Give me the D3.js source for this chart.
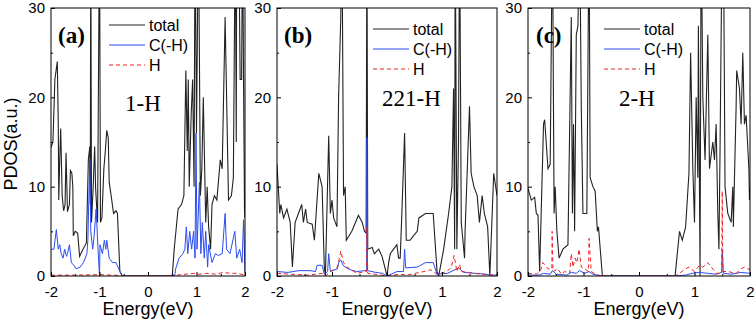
<!DOCTYPE html>
<html>
<head>
<meta charset="utf-8">
<script src="https://cdn.jsdelivr.net/npm/d3@7"></script>
<style>
  body { margin: 0; background: #fff; }
  svg { display: block; }
</style>
</head>
<body>
<svg width="756" height="322" font-family="Arial, 'Liberation Sans', sans-serif"></svg>
<script>
// energy (eV), PDOS (a.u.) pairs
var aTotal = [[-2,14.4],[-1.96,15],[-1.92,22],[-1.87,24],[-1.85,17],[-1.84,8.5],[-1.82,13],[-1.8,16.5],[-1.77,9],[-1.74,7.3],[-1.71,8],[-1.69,13.8],[-1.66,7.2],[-1.62,8],[-1.6,11.8],[-1.57,11.5],[-1.55,10],[-1.54,4.5],[-1.5,5],[-1.45,4.8],[-1.41,2.2],[-1.34,3],[-1.27,3.7],[-1.23,13],[-1.2,14.5],[-1.19,8],[-1.18,40],[-1.165,6],[-1.13,10],[-1.1,14.5],[-1.08,9.8],[-1.04,6],[-1.0,40],[-0.98,6],[-0.95,6.5],[-0.91,12],[-0.88,14],[-0.85,16.3],[-0.82,15.5],[-0.8,10.5],[-0.76,9],[-0.71,7],[-0.66,7.3],[-0.63,7],[-0.58,0.5],[-0.53,0],[0.5,0],[0.54,3],[0.62,7.5],[0.69,8],[0.74,9],[0.78,23],[0.81,14],[0.83,22],[0.85,10],[0.89,18],[0.92,22],[0.95,10],[0.97,40],[1.0,16],[1.04,40],[1.08,9],[1.11,12],[1.14,20],[1.19,6],[1.22,10],[1.25,5.5],[1.29,3],[1.32,8],[1.37,9],[1.42,8.5],[1.49,13],[1.53,12],[1.59,29],[1.66,8.5],[1.72,9],[1.76,11],[1.8,40],[1.82,15],[1.83,40],[1.87,40],[1.9,22],[1.93,22],[1.95,40],[1.97,22],[1.99,7.5],[2,6.5]];
var aC = [[-2,3],[-1.94,3],[-1.89,5.2],[-1.85,3],[-1.82,3.5],[-1.79,2.5],[-1.75,2],[-1.72,3],[-1.68,2.2],[-1.66,2.5],[-1.62,3.5],[-1.58,1.5],[-1.53,1.2],[-1.48,0.8],[-1.4,1],[-1.33,1.5],[-1.26,2.5],[-1.24,4],[-1.2,13],[-1.18,5],[-1.14,3],[-1.11,4.5],[-1.07,7.5],[-1.03,3],[-1.0,0],[-0.99,3.5],[-0.94,2.5],[-0.9,4],[-0.87,3],[-0.85,4],[-0.8,2],[-0.73,1.5],[-0.66,1.5],[-0.58,0.5],[-0.52,0],[0.55,0],[0.57,0.8],[0.64,2],[0.72,2.5],[0.76,3],[0.79,5.5],[0.82,2.5],[0.86,5],[0.9,3],[0.94,5],[0.97,2],[0.99,16],[1.01,3],[1.06,10.5],[1.09,2.5],[1.12,6],[1.16,2],[1.19,5],[1.23,1],[1.25,3.5],[1.32,1.5],[1.39,2.5],[1.45,2.3],[1.53,2.5],[1.59,7],[1.62,3],[1.69,2.5],[1.79,5],[1.83,2],[1.89,3],[1.94,1.5],[1.97,6.3],[2,0.5]];
var aH = [[-2,0.1],[-1.5,0.1],[-1,0.15],[-0.5,0.05],[0,0],[0.5,0.05],[0.95,0.3],[1.05,0.2],[1.2,0.3],[1.4,0.2],[1.55,0.4],[1.7,0.3],[1.85,0.3],[2,0.1]];

var bTotal = [[-2,12.5],[-1.95,7],[-1.93,8],[-1.88,6.5],[-1.82,7.5],[-1.76,6],[-1.72,1],[-1.67,6],[-1.61,7],[-1.55,8],[-1.52,6],[-1.48,7.5],[-1.45,6],[-1.36,5.8],[-1.32,4],[-1.24,11.5],[-1.18,10],[-1.14,1],[-1.12,0],[-1.06,15.7],[-1.03,7],[-1.0,8.5],[-0.97,6.5],[-0.91,5.5],[-0.88,20],[-0.84,29],[-0.82,40],[-0.79,9],[-0.76,10],[-0.74,4],[-0.64,5],[-0.52,6.8],[-0.45,6],[-0.41,5],[-0.38,4.8],[-0.365,40],[-0.35,3],[-0.27,3.2],[-0.23,2.5],[-0.15,3],[-0.09,2.2],[-0.04,1],[0,0],[0.03,1.5],[0.06,2.5],[0.12,3],[0.18,3.5],[0.21,2],[0.24,2],[0.27,7],[0.32,16],[0.35,4],[0.42,4],[0.48,4.5],[0.55,5],[0.58,6.5],[0.7,7],[0.84,7],[0.91,0.5],[0.94,0],[1.03,3],[1.12,7],[1.18,10],[1.21,21],[1.23,3],[1.24,40],[1.27,3],[1.3,15],[1.32,40],[1.35,6],[1.41,2],[1.42,5],[1.5,19],[1.53,11.5],[1.58,10],[1.64,9],[1.68,6],[1.73,9],[1.77,7],[1.83,5.5],[1.87,0],[1.94,11.5],[2,9]];
var bC = [[-2,0.5],[-1.8,0.4],[-1.6,0.6],[-1.4,0.6],[-1.3,0.5],[-1.27,1.2],[-1.18,1.2],[-1.14,0.2],[-1.08,0.5],[-1.06,2.5],[-1.03,0.5],[-0.9,0.8],[-0.88,1.5],[-0.84,1.8],[-0.8,1.2],[-0.76,1],[-0.67,0.7],[-0.55,0.5],[-0.4,0.6],[-0.37,0.6],[-0.365,15.5],[-0.355,0.6],[-0.2,0.4],[-0.08,0.3],[0,0],[0.18,0.5],[0.3,0.5],[0.32,3],[0.34,0.9],[0.55,1],[0.7,1.5],[0.84,1.5],[0.91,0.2],[1.1,0.3],[1.3,0.9],[1.4,0.4],[1.6,0.3],[1.8,0.2],[1.9,0.1],[2,0.1]];
var bH = [[-2,0.3],[-1.76,0.2],[-1.45,0.1],[-1.3,0.2],[-1.18,0.3],[-1.12,0],[-1.03,0.5],[-0.9,1],[-0.84,2.8],[-0.79,1.5],[-0.73,1],[-0.55,0.3],[-0.4,0.5],[-0.37,0.5],[-0.365,5.5],[-0.35,0.3],[-0.1,0.1],[0,0],[0.24,0.2],[0.36,0.1],[0.67,0.5],[0.79,0.7],[0.91,0.2],[1.09,0.5],[1.17,1],[1.22,2.3],[1.27,0.5],[1.32,1.3],[1.35,0.5],[1.5,0.4],[1.7,0.2],[1.87,0.1],[2,0.1]];

var cTotal = [[-2,9.8],[-1.94,8.5],[-1.88,8.8],[-1.85,7],[-1.82,6.8],[-1.79,0.5],[-1.75,10],[-1.72,17],[-1.7,17.5],[-1.64,12],[-1.6,12.5],[-1.56,40],[-1.53,7],[-1.51,10],[-1.48,5],[-1.44,2],[-1.37,3],[-1.28,3.5],[-1.22,29],[-1.2,7],[-1.18,17],[-1.16,5],[-1.13,27],[-1.1,28],[-1.07,40],[-1.04,19],[-1.01,7],[-0.94,7],[-0.9,40],[-0.88,11],[-0.83,10],[-0.79,9.5],[-0.75,5],[-0.73,5.5],[-0.66,0],[0.65,0],[0.73,5],[0.78,4],[0.84,5.5],[0.9,11.5],[0.93,25],[0.97,12],[1.0,6],[1.03,20],[1.06,11],[1.07,28],[1.1,0],[1.12,40],[1.15,20],[1.19,13],[1.24,27],[1.27,12],[1.33,15],[1.36,13],[1.39,17],[1.42,7],[1.44,3],[1.46,14],[1.5,40],[1.52,40],[1.55,10],[1.6,7],[1.66,6],[1.69,10],[1.7,5.5],[1.75,19],[1.76,23],[1.81,21],[1.84,17],[1.87,25],[1.9,17],[1.93,18],[1.98,12],[1.99,8.5],[2,10]];
var cC = [[-2,0.1],[-1.8,0.1],[-1.72,0.3],[-1.6,0.2],[-1.56,0.6],[-1.49,0.2],[-1.3,0.1],[-1.22,0.4],[-1.13,0.3],[-1.07,0.6],[-0.98,0.3],[-0.9,0.5],[-0.83,0.2],[-0.68,0],[0.65,0],[0.84,0.1],[0.96,0.3],[1.08,0.4],[1.24,0.3],[1.39,0.2],[1.49,0.4],[1.5,3],[1.52,0.3],[1.66,0.2],[1.84,0.4],[2,0.3]];
var cH = [[-2,0.3],[-1.85,0.2],[-1.78,0.5],[-1.73,1.5],[-1.64,0.8],[-1.57,0.8],[-1.565,5],[-1.55,0.5],[-1.46,0.8],[-1.4,0.2],[-1.34,0.5],[-1.25,0.3],[-1.22,2.5],[-1.19,1],[-1.15,2],[-1.12,1.5],[-1.08,3],[-1.04,1],[-0.98,0.8],[-0.91,0.5],[-0.9,4.2],[-0.86,0.5],[-0.78,0.2],[-0.68,0],[0.65,0],[0.73,0.3],[0.84,0.8],[0.9,1],[1.0,0.5],[1.09,1.2],[1.15,1],[1.24,1.5],[1.33,0.8],[1.39,0.3],[1.49,0.3],[1.5,9.5],[1.51,0.5],[1.6,0.5],[1.75,0.3],[1.84,0.8],[1.9,1],[2,0.7]];

var xTicks = [-2, -1, 0, 1, 2];
var yTicks = [0, 10, 20, 30];
var seriesNames = ["total", "C(-H)", "H"];
var panelTags = ["(a)", "(b)", "(c)"];
var panelNames = ["1-H", "221-H", "2-H"];

var colors = ["#222", "#2b4cf0", "#f02020"];
var serif = "'Liberation Serif', 'Times New Roman', serif";

var panels = [
    {left: 51, right: 245, data: [aTotal, aC, aH], legX: 109, legY: 25, tagX: 58, nameX: 125, nameY: 111},
    {left: 277, right: 497, data: [bTotal, bC, bH], legX: 373, legY: 29, tagX: 284, nameX: 382, nameY: 106},
    {left: 528, right: 750, data: [cTotal, cC, cH], legX: 604, legY: 29, tagX: 536, nameX: 619, nameY: 106}
];
var plotTop = 8, plotBottom = 276;

var svg = d3.select("svg");

panels.forEach(function (p, i) {
    var x = d3.scaleLinear().domain([-2, 2]).range([p.left, p.right]);
    var y = d3.scaleLinear().domain([0, 30]).range([plotBottom, plotTop]);

    svg.append("clipPath").attr("id", "clip" + i)
        .append("rect")
        .attr("x", p.left).attr("y", plotTop)
        .attr("width", p.right - p.left).attr("height", plotBottom - plotTop);

    var line = d3.line()
        .x(function (d) { return x(d[0]); })
        .y(function (d) { return y(d[1]); });

    var g = svg.append("g").attr("clip-path", "url(#clip" + i + ")");
    p.data.forEach(function (s, k) {
        g.append("path")
            .datum(s)
            .attr("d", line)
            .attr("fill", "none")
            .attr("stroke", colors[k])
            .attr("stroke-width", k == 0 ? 1.1 : 1)
            .attr("stroke-dasharray", k == 2 ? "4,3" : null);
    });

    // inward ticks, minor then major
    svg.append("g")
        .attr("transform", "translate(0," + plotBottom + ")")
        .call(d3.axisBottom(x).tickValues([-1.5, -0.5, 0.5, 1.5]).tickSize(-2).tickFormat(""))
        .call(function (a) { a.select(".domain").remove(); });
    var xa = svg.append("g")
        .attr("transform", "translate(0," + plotBottom + ")")
        .call(d3.axisBottom(x).tickValues(xTicks).tickSize(-4).tickFormat(function (d) { return String(d); }));
    xa.select(".domain").remove();
    xa.attr("font-family", null).attr("font-size", null);
    xa.selectAll("text").attr("font-size", 15).attr("fill", "#000").attr("y", 21).attr("dy", null);

    svg.append("g")
        .attr("transform", "translate(" + p.left + ",0)")
        .call(d3.axisLeft(y).tickValues([5, 15, 25]).tickSize(-2).tickFormat(""))
        .call(function (a) { a.select(".domain").remove(); });
    var ya = svg.append("g")
        .attr("transform", "translate(" + p.left + ",0)")
        .call(d3.axisLeft(y).tickValues(yTicks).tickSize(-4).tickFormat(function (d) { return String(d); }));
    ya.select(".domain").remove();
    ya.attr("font-family", null).attr("font-size", null);
    ya.selectAll("text").attr("font-size", 15).attr("fill", "#000").attr("x", -6);

    // frame
    svg.append("rect")
        .attr("x", p.left).attr("y", plotTop)
        .attr("width", p.right - p.left).attr("height", plotBottom - plotTop)
        .attr("fill", "none").attr("stroke", "#000").attr("stroke-width", 1);

    // legend
    seriesNames.forEach(function (n, k) {
        var ly = p.legY + k * 20;
        svg.append("line")
            .attr("x1", p.legX).attr("x2", p.legX + 36)
            .attr("y1", ly).attr("y2", ly)
            .attr("stroke", colors[k]).attr("stroke-width", 1.2)
            .attr("stroke-dasharray", k == 2 ? "4,3" : null);
        svg.append("text")
            .attr("x", p.legX + 40).attr("y", ly + 6)
            .attr("font-size", 16)
            .text(n);
    });

    svg.append("text")
        .attr("x", p.tagX).attr("y", 43)
        .attr("font-family", serif)
        .attr("font-weight", "bold").attr("font-size", 23)
        .text(panelTags[i]);

    svg.append("text")
        .attr("x", p.nameX).attr("y", p.nameY)
        .attr("font-family", serif)
        .attr("font-size", 23)
        .text(panelNames[i]);

    svg.append("text")
        .attr("x", (p.left + p.right) / 2).attr("y", 315)
        .attr("text-anchor", "middle")
        .attr("font-size", 18)
        .text("Energy(eV)");
});

svg.append("text")
    .attr("transform", "translate(17,144) rotate(-90)")
    .attr("text-anchor", "middle")
    .attr("font-size", 18)
    .text("PDOS(a.u.)");
</script>
</body>
</html>
